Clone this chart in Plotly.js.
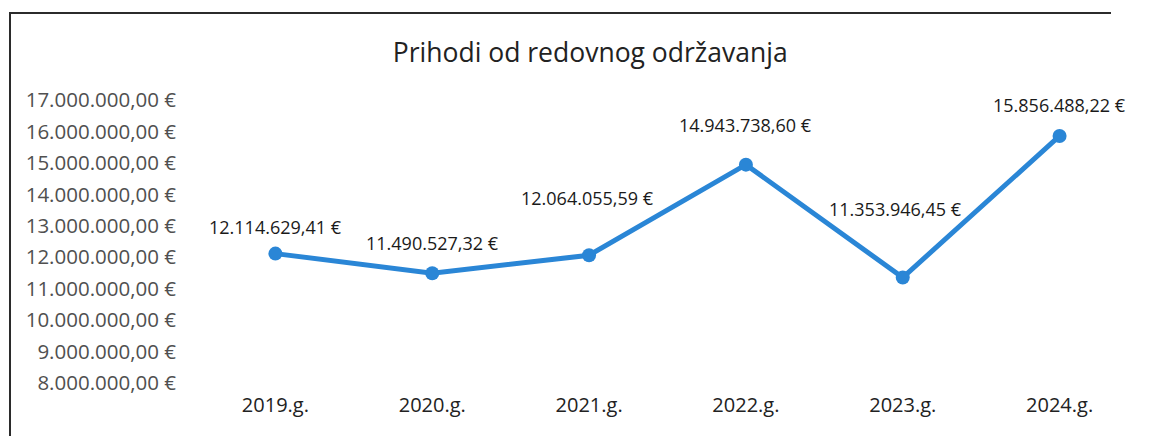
<!DOCTYPE html>
<html>
<head>
<meta charset="utf-8">
<script src="https://cdn.plot.ly/plotly-3.0.1.min.js"></script>
<style>
  html, body { margin: 0; padding: 0; background: #fff; overflow: hidden; }
  #wrap { position: relative; width: 1155px; height: 436px; overflow: hidden; }
  #chart { position: absolute; left: 0; top: 0; width: 1155px; height: 436px; }
  #frame { position: absolute; left: 9px; top: 12px; width: 1100px; height: 430px;
           border-left: 2px solid #2b2b2b; border-top: 2px solid #2b2b2b; pointer-events: none; }
</style>
</head>
<body>
<div id="wrap">
  <div id="chart"></div>
  <div id="frame"></div>
</div>
<script>
// ---- data ----
const categories = ["2019.g.", "2020.g.", "2021.g.", "2022.g.", "2023.g.", "2024.g."];
const values = [12114629.41, 11490527.32, 12064055.59, 14943738.60, 11353946.45, 15856488.22];
const valueLabels = ["12.114.629,41 €", "11.490.527,32 €", "12.064.055,59 €", "14.943.738,60 €", "11.353.946,45 €", "15.856.488,22 €"];
const tickValues = [8000000, 9000000, 10000000, 11000000, 12000000, 13000000, 14000000, 15000000, 16000000, 17000000];
const tickLabels = ["8.000.000,00 €", "9.000.000,00 €", "10.000.000,00 €", "11.000.000,00 €", "12.000.000,00 €", "13.000.000,00 €", "14.000.000,00 €", "15.000.000,00 €", "16.000.000,00 €", "17.000.000,00 €"];
const chartTitle = "Prihodi od redovnog održavanja";

// ---- presentation ----
const FONT = "Open Sans, Noto Sans, sans-serif";
const labelShift = [27, 30, 57, 40, 69, 31];
const labelXShift = [0, 0, -2, 0, -7, 0];

const trace = {
  x: categories,
  y: values,
  type: "scatter",
  mode: "lines+markers",
  line: { color: "#2a86d6", width: 5 },
  marker: { color: "#2a86d6", size: 14 },
  hoverinfo: "skip"
};

const annotations = categories.map((c, i) => ({
  x: c, y: values[i], xref: "x", yref: "y",
  text: valueLabels[i], showarrow: false,
  yshift: labelShift[i], xshift: labelXShift[i],
  font: { family: FONT, size: 18, color: "#1a1a1a" }
}));

const layout = {
  width: 1155, height: 436,
  margin: { l: 197, r: 17, t: 100, b: 53 },
  paper_bgcolor: "#ffffff", plot_bgcolor: "#ffffff",
  showlegend: false,
  title: { text: chartTitle, x: 0.511, xanchor: "center", y: 0.878, yanchor: "middle",
           font: { family: FONT, size: 26.5, color: "#222222" } },
  xaxis: {
    type: "category", range: [-0.5, categories.length - 0.5],
    showgrid: false, zeroline: false, showline: false,
    ticks: "", tickfont: { family: FONT, size: 20, color: "#222222" },
    ticklabelstandoff: 8
  },
  yaxis: {
    range: [8000000, 17000000], tickvals: tickValues, ticktext: tickLabels,
    showgrid: false, zeroline: false, showline: false, ticks: "",
    tickfont: { family: FONT, size: 20.5, color: "#505050" },
    ticklabelstandoff: 20
  },
  annotations: annotations
};

Plotly.newPlot("chart", [trace], layout, { displayModeBar: false, staticPlot: true });
</script>
</body>
</html>
